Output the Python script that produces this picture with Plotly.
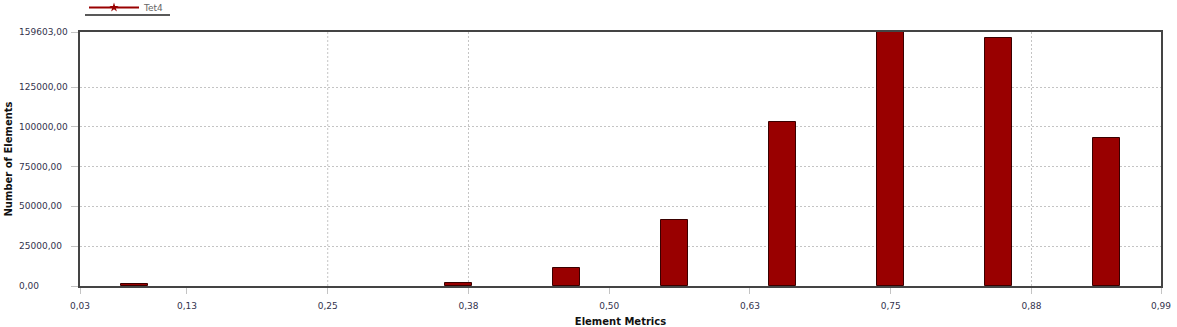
import plotly.graph_objects as go

# ---- data ----
bin_centers = [0.078, 0.174, 0.270, 0.366, 0.462, 0.558, 0.654, 0.750, 0.846, 0.942]
element_counts = [1200, 0, 0, 1900, 11200, 41700, 103000, 159603, 156100, 93300]
x_tickvals = [0.03, 0.125, 0.25, 0.375, 0.5, 0.625, 0.75, 0.875, 0.99]
x_ticktext = ["0,03", "0,13", "0,25", "0,38", "0,50", "0,63", "0,75", "0,88", "0,99"]
y_tickvals = [0, 25000, 50000, 75000, 100000, 125000, 159603]
x_grid_vals = [0.25, 0.375, 0.875]
series_name = "Tet4"

W, H = 1177, 327
L, R, T, B = 80, 16, 32, 41
pw, ph = W - L - R, H - T - B
bin_w = 0.096
bar_color = "#990000"
font_fam = "DejaVu Sans"

fig = go.Figure()
fig.add_trace(go.Bar(
    x=bin_centers, y=element_counts, width=bin_w * 0.25,
    marker=dict(color=bar_color,
                line=dict(color="#3a0000", width=[1 if v > 0 else 0 for v in element_counts])),
    showlegend=False, name=series_name,
))
# legend entry (line + star symbol as in the original)
fig.add_trace(go.Scatter(
    x=[None], y=[None], mode="lines+markers", name=series_name,
    line=dict(color=bar_color, width=2),
    marker=dict(symbol="star", size=7, color=bar_color),
))

for gx in x_grid_vals:
    fig.add_vline(x=gx, line=dict(color="#c4c4c4", width=1, dash="2px,2px"), layer="below")

ymax = max(y_tickvals)
for v in y_tickvals:
    fig.add_annotation(
        x=(17 - L) / pw, xref="paper", y=v, yref="y", xanchor="left", yanchor="middle",
        text=f"{v:.2f}".replace(".", ","), showarrow=False,
        font=dict(family=font_fam, size=9, color="#33334d"),
    )

# legend underline
uy = 1 + (T - 15) / ph
fig.add_shape(type="line", xref="paper", yref="paper",
              x0=(85 - L) / pw, x1=(170 - L) / pw, y0=uy, y1=uy,
              line=dict(color="#222222", width=1.5))

fig.update_layout(
    width=W, height=H,
    margin=dict(l=L, r=R, t=T, b=B, pad=0, autoexpand=False),
    plot_bgcolor="white", paper_bgcolor="white",
    font=dict(family=font_fam, size=9, color="#33334d"),
    legend=dict(orientation="h", x=(84 - L) / pw, xanchor="left", y=1 + (T + 7) / ph,
                yanchor="top", font=dict(size=9, color="#666666"),
                bgcolor="rgba(0,0,0,0)", itemwidth=50, borderwidth=0),
    showlegend=True,
    bargap=0,
)
fig.update_xaxes(
    range=[0.03, 0.99], tickvals=x_tickvals, ticktext=x_ticktext,
    showgrid=False, zeroline=False,
    showline=True, mirror=True, linecolor="#444444", linewidth=2,
    ticks="outside", ticklen=6, tickcolor="#c4c4c4", tickwidth=1,
    ticklabelstandoff=4,
    tickfont=dict(family=font_fam, size=9, color="#33334d"),
    title=dict(text="<b>Element Metrics</b>", font=dict(family=font_fam, size=10, color="#111111"), standoff=19),
)
fig.update_yaxes(
    range=[0, ymax], tickvals=y_tickvals, showticklabels=False,
    showgrid=True, gridcolor="#c4c4c4", griddash="2px,2px", gridwidth=1,
    zeroline=False,
    showline=True, mirror=True, linecolor="#444444", linewidth=2,
    ticks="outside", ticklen=7, tickcolor="#c4c4c4", tickwidth=1,
    title=dict(text="<b>Number of Elements</b>", font=dict(family=font_fam, size=10, color="#111111"), standoff=57),
)

fig.write_html("out.html")
